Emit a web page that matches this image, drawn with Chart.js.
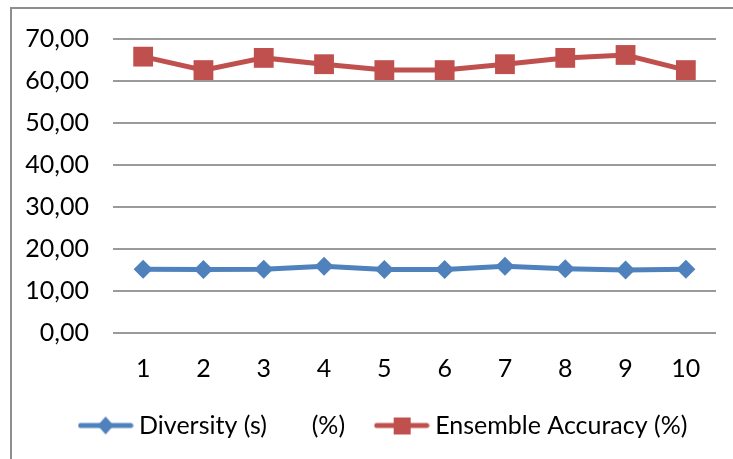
<!DOCTYPE html>
<html lang="en">
<head>
  <meta charset="UTF-8">
  <title>Diversity and Ensemble Accuracy</title>
  <script src="https://cdn.jsdelivr.net/npm/chart.js"></script>
  <style>
    html, body {
      margin: 0;
      padding: 0;
      background: #fff;
      overflow: hidden;
    }
    .frame {
      position: absolute;
      left: 10px;
      top: 7px;
      width: 780px;
      height: 500px;
      border: 2px solid #8e8e8e;
    }
    .chart-box {
      position: absolute;
      left: 0;
      top: 0;
      width: 733px;
      height: 459px;
    }
  </style>
</head>
<body>
  <div class="frame"></div>
  <div class="chart-box"><canvas id="chart"></canvas></div>
  <script>
    const categories = ['1', '2', '3', '4', '5', '6', '7', '8', '9', '10'];
    const diversity = [15.2, 15.1, 15.2, 15.9, 15.1, 15.1, 15.9, 15.3, 15.0, 15.2];
    const accuracy = [65.8, 62.6, 65.5, 64.0, 62.6, 62.6, 64.0, 65.5, 66.2, 62.6];
    const seriesNames = ['Diversity (s)       (%)    ', 'Ensemble Accuracy (%)'];
    const yMin = 0, yMax = 70, yStep = 10;

    const blue = '#4F81BD';
    const red = '#C0504D';
    const font = { family: 'Lato, sans-serif', size: 25 };

    // small line + marker icons for the legend
    function legendSample(color, shape) {
      const c = document.createElement('canvas');
      c.width = 56;
      c.height = 22;
      const g = c.getContext('2d');
      g.strokeStyle = color;
      g.fillStyle = color;
      g.lineWidth = 5;
      g.lineCap = 'round';
      g.beginPath();
      g.moveTo(3, 11);
      g.lineTo(53, 11);
      g.stroke();
      if (shape === 'rect') {
        g.fillRect(20, 3, 17, 17);
      } else {
        g.beginPath();
        g.moveTo(28, 2);
        g.lineTo(36, 11);
        g.lineTo(28, 20);
        g.lineTo(20, 11);
        g.closePath();
        g.fill();
      }
      return c;
    }
    const samples = [legendSample(blue, 'diamond'), legendSample(red, 'rect')];

    // move the legend row right so it sits under the plot rather than the canvas
    const legendOffset = {
      id: 'legendOffset',
      afterLayout(chart) {
        chart.legend.left += 28;
        chart.legend.right += 28;
      }
    };

    new Chart(document.getElementById('chart'), {
      type: 'line',
      data: {
        labels: categories,
        datasets: [{
          label: seriesNames[0],
          data: diversity,
          borderColor: blue,
          backgroundColor: blue,
          borderWidth: 5,
          pointStyle: 'rectRot',
          pointRadius: 9.5,
          pointHoverRadius: 9.5,
          pointBorderWidth: 0,
          tension: 0
        }, {
          label: seriesNames[1],
          data: accuracy,
          borderColor: red,
          backgroundColor: red,
          borderWidth: 5,
          pointStyle: 'rect',
          pointRadius: 14,
          pointHoverRadius: 14,
          pointBorderWidth: 0,
          tension: 0
        }]
      },
      plugins: [legendOffset],
      options: {
        responsive: true,
        maintainAspectRatio: false,
        animation: false,
        layout: { padding: { top: 37, left: 0, right: 17, bottom: 11 } },
        plugins: {
          tooltip: { enabled: false },
          legend: {
            position: 'bottom',
            labels: {
              usePointStyle: true,
              pointStyleWidth: 42,
              padding: 10,
              color: '#000',
              font: font,
              generateLabels: chart => chart.data.datasets.map((ds, i) => ({
                text: ds.label,
                pointStyle: samples[i],
                fillStyle: ds.borderColor,
                strokeStyle: ds.borderColor,
                lineWidth: 0,
                hidden: false,
                datasetIndex: i
              }))
            }
          }
        },
        scales: {
          x: {
            offset: true,
            grid: { display: false },
            border: { display: false },
            ticks: { padding: 13, color: '#000', font: font },
            afterFit: scale => { scale.height = 70; }
          },
          y: {
            min: yMin,
            max: yMax,
            grid: { color: '#9a9a9a', lineWidth: 2, drawTicks: false },
            border: { display: false },
            ticks: {
              stepSize: yStep,
              padding: 24,
              color: '#000',
              font: font,
              callback: v => v.toFixed(2).replace('.', ',')
            },
            afterFit: scale => { scale.width = 113; }
          }
        }
      }
    });
  </script>
</body>
</html>
